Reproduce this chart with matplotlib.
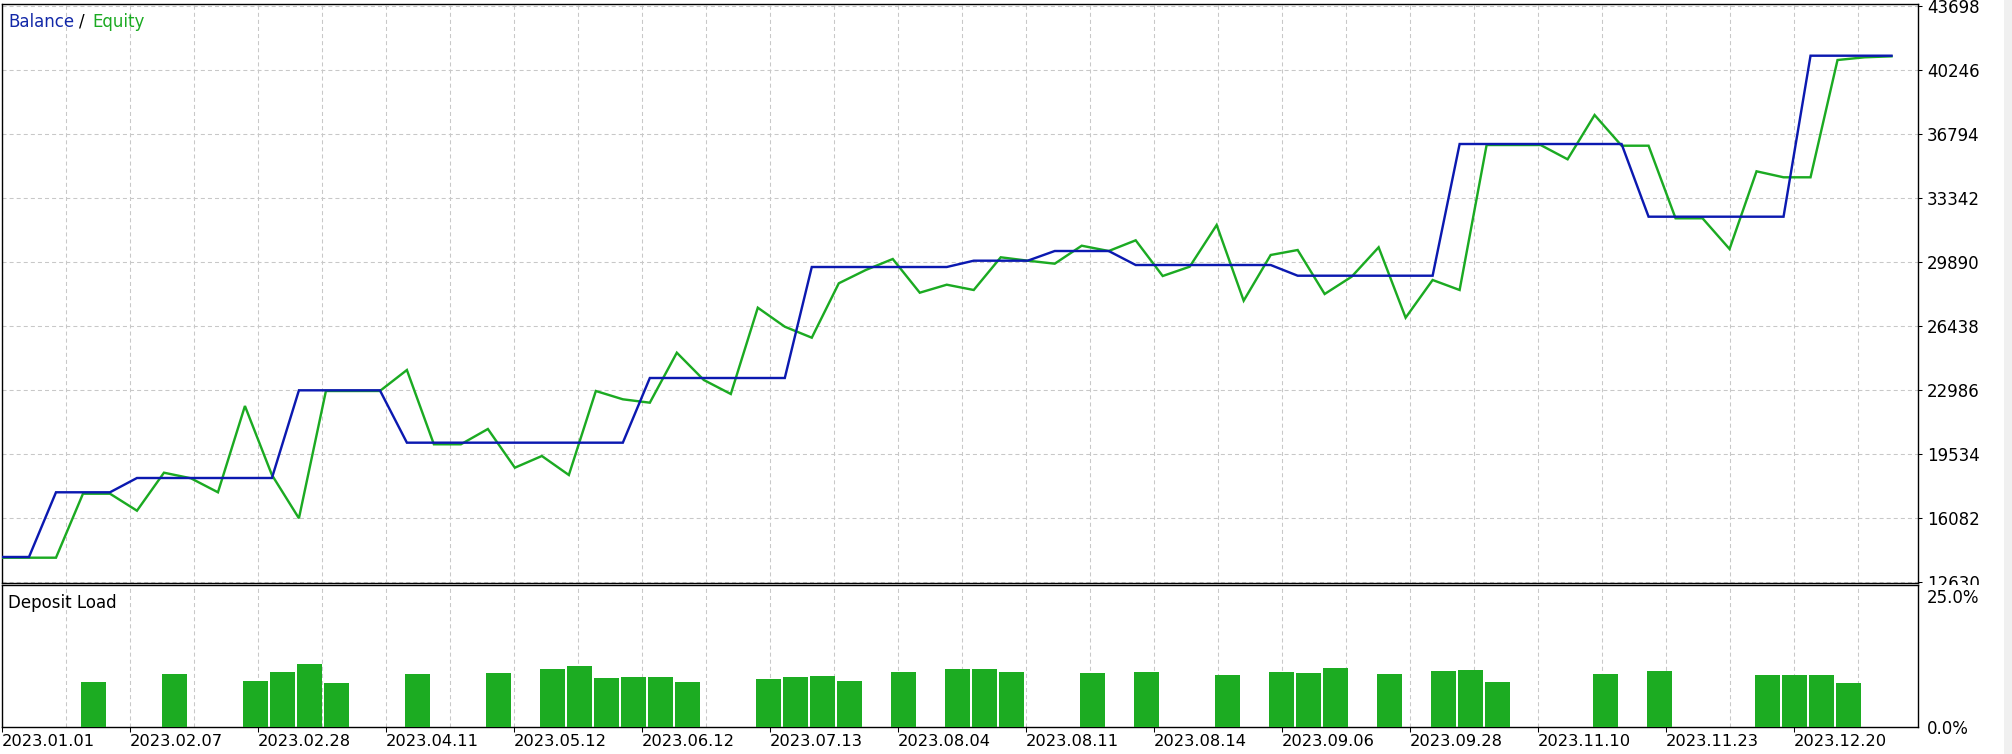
import matplotlib
matplotlib.use('Agg')
import matplotlib.pyplot as plt
from matplotlib.patches import Rectangle
from matplotlib.ticker import FixedLocator
import numpy as np

# ---------------- data ----------------
balance = [13995, 13995,
           17485, 17485, 17485,
           18256, 18256, 18256, 18256, 18256, 18256,
           22986, 22986, 22986, 22986,
           20161, 20161, 20161, 20161, 20161, 20161, 20161, 20161, 20161,
           23650, 23650, 23650, 23650, 23650, 23650,
           29637, 29637, 29637, 29637, 29637, 29637,
           29978, 29978, 29978,
           30500, 30500, 30500,
           29745, 29745, 29745, 29745, 29745, 29745,
           29168, 29168, 29168, 29168, 29168, 29168,
           36272, 36272, 36272, 36272, 36272, 36272, 36272,
           32351, 32351, 32351, 32351, 32351, 32351,
           41035, 41035, 41035, 41035]

equity = [13957, 13957, 13957, 17409, 17409, 16492, 18542, 18240, 17485, 22140,
          18418, 16082, 22949, 22949, 22950, 24081, 20074, 20074, 20899, 18812,
          19443, 18418, 22949, 22501, 22318, 25015, 23542, 22787, 27442, 26417,
          25824, 28758, 29476, 30069, 28251, 28683, 28397, 30161, 29978, 29816,
          30786, 30500, 31077, 29152, 29654, 31903, 27820, 30285, 30554, 28181,
          29114, 30700, 26903, 28936, 28397, 36218, 36218, 36218, 35447, 37836,
          36180, 36180, 32264, 32264, 30608, 34799, 34476, 34476, 40803, 40949,
          41002]

load_idx = [3, 6, 9, 10, 11, 12, 15, 18, 20, 21, 22, 23, 24, 25, 28, 29, 30, 31,
            33, 35, 36, 37, 40, 42, 45, 47, 48, 49, 51, 53, 54, 55, 59, 61, 65,
            66, 67, 68]
load_pct = [7.92, 9.33, 8.10, 9.68, 11.09, 7.75, 9.33, 9.51, 10.21, 10.74, 8.63,
            8.80, 8.80, 7.92, 8.45, 8.80, 8.98, 8.10, 9.68, 10.21, 10.21, 9.68,
            9.51, 9.68, 9.15, 9.68, 9.51, 10.39, 9.33, 9.86, 10.04, 7.92, 9.33,
            9.86, 9.15, 9.15, 9.15, 7.75]

date_labels = ['2023.01.01', '2023.02.07', '2023.02.28', '2023.04.11', '2023.05.12',
               '2023.06.12', '2023.07.13', '2023.08.04', '2023.08.11', '2023.08.14',
               '2023.09.06', '2023.09.28', '2023.11.10', '2023.11.23', '2023.12.20']

y_ticks = [12630, 16082, 19534, 22986, 26438, 29890, 33342, 36794, 40246, 43698]
load_ticks = ['0.0%', '25.0%']

# ---------------- style ----------------
BLUE = '#0B19B0'
GREEN = '#1BAA22'
BAR = '#1CAC22'
GRID = '#C8C8C8'
plt.rcParams['font.family'] = ['DejaVu Sans']
plt.rcParams['lines.scale_dashes'] = False

W, H = 2012, 754
PX = 72 / 100.0  # points per pixel
fig = plt.figure(figsize=(W / 100, H / 100), dpi=100)
fig.patch.set_facecolor('white')


def box(l, t, r, b):
    return [l / W, 1 - b / H, (r - l) / W, (b - t) / H]


ax = fig.add_axes(box(1.5, 4, 1918, 583))
ax2 = fig.add_axes(box(1.5, 585, 1918, 727))
ax.set_zorder(0)
ax2.set_zorder(2)

step = 27.0  # pixels per deal
x = np.arange(len(balance))
xlim = (-0.5 / step, 1916.5 / step)
major = np.arange(len(date_labels)) * 128 / step
minor = np.arange(2 * len(date_labels)) * 64 / step

grid_kw = dict(color=GRID, linestyle=(0, (2.9, 2.2)), linewidth=0.75)

# ---- top panel ----
ax.plot(x, equity, color=GREEN, lw=2.4 * PX, solid_joinstyle='miter', zorder=3)
ax.plot(x, balance, color=BLUE, lw=2.4 * PX, solid_joinstyle='miter', zorder=4)
ax.set_xlim(*xlim)
ax.set_ylim(12592, 43824)
ax.xaxis.set_major_locator(FixedLocator(major))
ax.xaxis.set_minor_locator(FixedLocator(minor))
ax.tick_params(axis='x', which='both', length=0, labelbottom=False)
ax.yaxis.tick_right()
ax.set_yticks(y_ticks)
ax.set_yticklabels([str(v) for v in y_ticks])
ax.tick_params(axis='y', length=4 * PX, width=0.75, pad=5 * PX, labelsize=12,
               colors='black')
ax.grid(True, which='both', axis='x', **grid_kw)
ax.grid(True, which='major', axis='y', **grid_kw)
for s in ax.spines.values():
    s.set_linewidth(1.0)
    s.set_color('black')

# ---- bottom panel ----
ax2.bar(np.array(load_idx) - 2 / step, load_pct, width=25 / step, align='edge',
        color=BAR, linewidth=0, zorder=3)
ax2.set_xlim(*xlim)
ax2.set_ylim(0, 25)
ax2.xaxis.set_major_locator(FixedLocator(major))
ax2.xaxis.set_minor_locator(FixedLocator(minor))
ax2.set_xticklabels(date_labels, ha='left')
ax2.tick_params(axis='x', which='major', length=5 * PX, width=0.75, pad=2 * PX,
                labelsize=11.7, colors='black')
ax2.tick_params(axis='x', which='minor', length=0)
ax2.set_yticks([])
ax2.grid(True, which='both', axis='x', **grid_kw)
for s in ax2.spines.values():
    s.set_linewidth(1.0)
    s.set_color('black')

ax2.annotate(load_ticks[1], xy=(1, 1), xycoords='axes fraction',
             xytext=(9, -13), textcoords='offset pixels', ha='left', va='center',
             fontsize=12)
ax2.annotate(load_ticks[0], xy=(1, 0), xycoords='axes fraction',
             xytext=(9, -2), textcoords='offset pixels', ha='left', va='center',
             fontsize=12)

# cover clipped part of the lowest top-panel label (as in the reference)
fig.add_artist(Rectangle((1920 / W, 1 - 606 / H), (2003 - 1920) / W, (606 - 584.5) / H,
                         transform=fig.transFigure, facecolor='white',
                         edgecolor='none', zorder=1))
# right grey strip
fig.add_artist(Rectangle((2004 / W, 0), 8 / W, 1, transform=fig.transFigure,
                         facecolor='#F0F0F0', edgecolor='none', zorder=1))

# ---- titles ----
ty = 1 - 22 / H
fig.text(8 / W, ty, 'Balance', color='#1228A8', fontsize=12, va='center', ha='left')
fig.text(79 / W, ty, '/', color='black', fontsize=12, va='center', ha='left')
fig.text(92 / W, ty, 'Equity', color=GREEN, fontsize=12, va='center', ha='left')
fig.text(8 / W, 1 - 603 / H, 'Deposit Load', color='black', fontsize=12,
         va='center', ha='left', zorder=3)

fig.savefig('out.png', dpi=100, facecolor='white')
